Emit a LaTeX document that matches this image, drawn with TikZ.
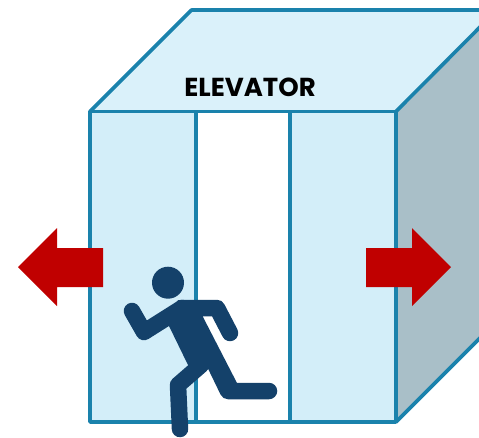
\documentclass[tikz,border=0pt]{standalone}
\usepackage{fontspec}
\setmainfont{Poppins}
\usepackage{xcolor}
\usetikzlibrary{positioning}
\definecolor{edgeblue}{HTML}{1A82AC}
\definecolor{softtop}{HTML}{DAF1FA}
\definecolor{softfront}{HTML}{D3EEF9}
\definecolor{sidegray}{HTML}{A9BFC8}
\definecolor{exitred}{HTML}{C00000}
\definecolor{runnerblue}{HTML}{14416A}

\begin{document}
\begin{tikzpicture}[
 x=1pt,y=-1pt,
 wall/.style={draw=edgeblue,line width=3.6pt,line join=round},
 limb/.style={draw=runnerblue,line width=16.5pt,line cap=round,line join=round},
 exitarrow/.style={fill=exitred}
]
\useasboundingbox (0,0) rectangle (479,437);
% cube
\clip (0,0) rectangle (479,437);
\fill[softtop] (90,111.5) -- (191.5,10) -- (479,10) -- (479,28) -- (396,111.5) -- cycle;
\fill[sidegray] (396,111.5) -- (479,28) -- (479,339) -- (396,422) -- cycle;
\fill[softfront] (90,111.5) rectangle (396,422);
\fill[white] (196,111.5) rectangle (290,422);
\draw[wall] (90,111.5) rectangle (396,422);
\draw[wall] (90,111.5) -- (191.5,10) -- (482,10);
\draw[wall] (396,111.5) -- (482,25);
\draw[wall] (396,422) -- (482,336);
\draw[wall] (196,111.5) -- (196,422);
\draw[wall] (290,111.5) -- (290,422);
\node[font=\fontsize{26}{26}\selectfont\bfseries] (title) at (250,87.5) {ELEVATOR};
% arrows
\fill[exitarrow] (103,248) -- (57,248) -- (57,228) -- (18,267) -- (57,306) -- (57,287) -- (103,287) -- cycle;
\fill[exitarrow] (366,248) -- (412,248) -- (412,228) -- (451,267) -- (412,306) -- (412,287) -- (366,287) -- cycle;
% runner
\fill[runnerblue] (168,282.7) circle (16);
\fill[runnerblue] (178,300) -- (200,300) -- (203,317) -- (237,383) -- (224,397) -- (210,369) -- (188,365) -- (169,326) -- cycle;
\draw[limb] (132,311) -- (144,332) -- (182,308);
\draw[limb] (182,308) -- (217,308) -- (230,333);
\draw[limb] (201,365) -- (178,385) -- (180,429);
\draw[limb] (213,360) -- (228,391) -- (269,391);
\end{tikzpicture}
\end{document}
